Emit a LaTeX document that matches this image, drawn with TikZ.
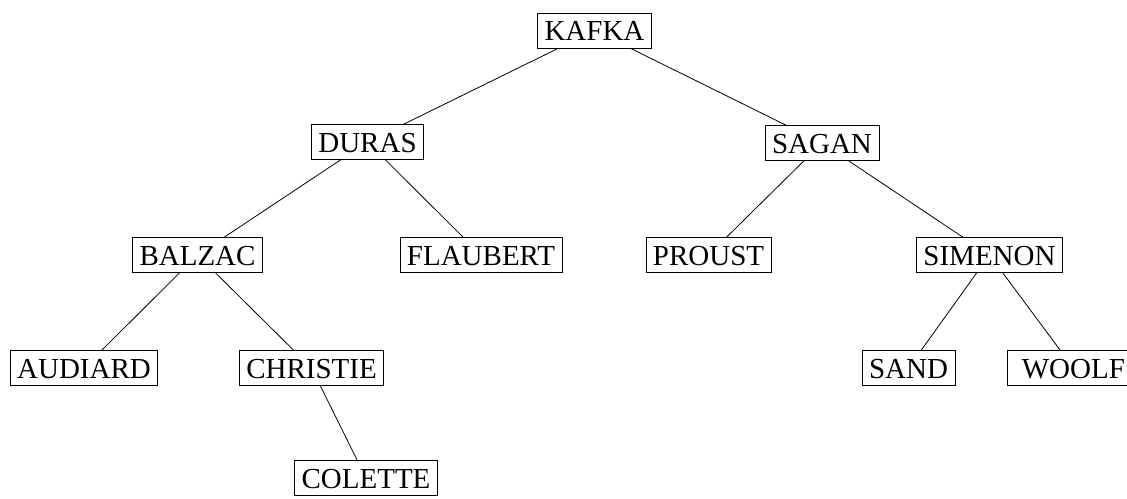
\documentclass[tikz,border=0pt]{standalone}
\usepackage{fontspec}
\setmainfont{Liberation Serif}
\tikzset{
  author/.style={draw, line width=0.8pt, font=\fontsize{29}{32}\selectfont,
    inner xsep=7pt, minimum height=35pt, text height=20pt, text depth=0pt},
  branch/.style={line width=0.8pt}
}
\begin{document}
\begin{tikzpicture}[x=1pt,y=1pt,yscale=-1,xscale=1]
\useasboundingbox (0,0) rectangle (1127,498);

% Root
\node [author] (kafka) at (594.5,30.5) {KAFKA};
% Level 1
\node [author] (duras) at (367.5,142) {DURAS};
\node [author] (sagan) at (822,143) {SAGAN};
% Level 2
\node [author] (balzac) at (197.5,255) {BALZAC};
\node [author] (flaubert) at (481,255) {FLAUBERT};
\node [author] (proust) at (708.5,255) {PROUST};
\node [author] (simenon) at (989.5,255) {SIMENON};
% Level 3
\node [author] (audiard) at (84,368) {AUDIARD};
\node [author] (christie) at (311.5,368) {CHRISTIE};
\node [author] (sand) at (908.5,368) {SAND};
\node [author, anchor=west, minimum width=132pt] (woolf) at (1007,368) {WOOLF};
% Level 4
\node [author] (colette) at (366,478) {COLETTE};

% Branches
\draw [branch] (kafka) -- (duras);
\draw [branch] (kafka) -- (sagan);
\draw [branch] (duras) -- (balzac);
\draw [branch] (duras) -- (flaubert);
\draw [branch] (sagan) -- (proust);
\draw [branch] (sagan) -- (simenon);
\draw [branch] (balzac) -- (audiard);
\draw [branch] (balzac) -- (christie);
\draw [branch] (simenon) -- (sand);
\draw [branch] (simenon) -- (woolf);
\draw [branch] (christie) -- (colette);

\end{tikzpicture}
\end{document}
